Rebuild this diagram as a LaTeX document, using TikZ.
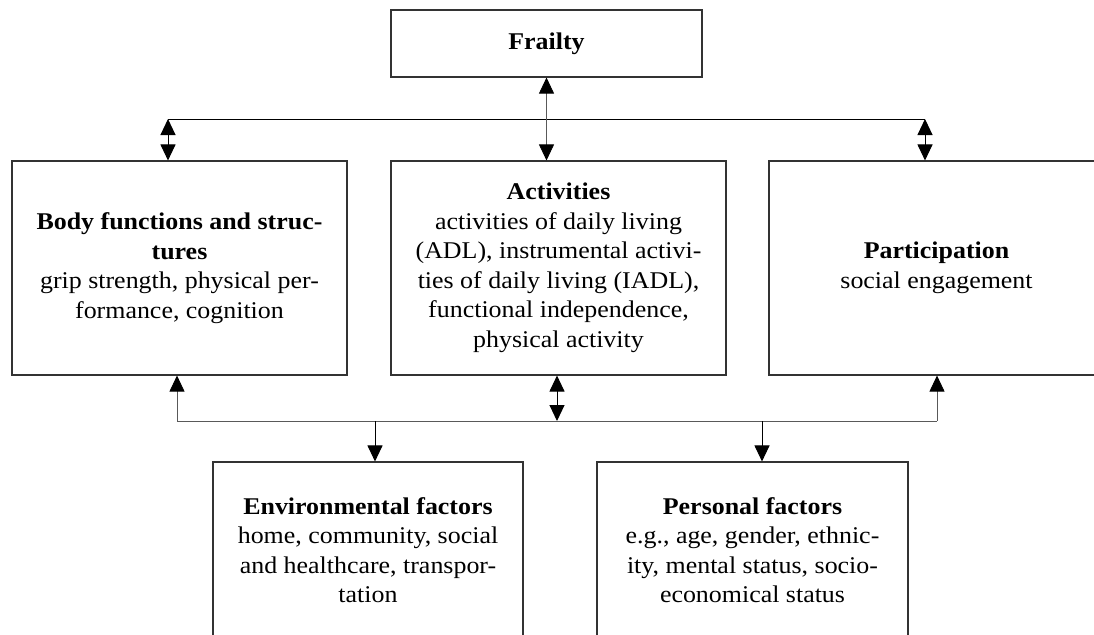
\documentclass[tikz,border=0pt]{standalone}
\usepackage{fontspec}
\setmainfont{Liberation Serif}[FakeStretch=1.08]
\usetikzlibrary{arrows.meta}
\begin{document}
\begin{tikzpicture}[x=1pt,y=-1pt,
  >={Triangle[width=15pt,length=16pt,color=black]},
  box/.style={draw=black!80, line width=1.1pt, align=center, inner sep=0pt,
    font=\fontsize{24}{29.5}\selectfont},
  link/.style={line width=1pt, black},
  thinlink/.style={line width=0.8pt, black!65}
]
\useasboundingbox (0,0) rectangle (1094,634);
\clip (0,0) rectangle (1094,634);

% central concept
\node[box, minimum width=311pt, minimum height=67pt] (frailty) at (546.5,43.5)
  {\textbf{Frailty}\vphantom{g}};

% ICF domains
\node[box, minimum width=335pt, minimum height=214pt] (body) at (179.5,268)
  {\textbf{Body functions and struc-}\\\textbf{tures}\\grip strength, physical per-\\formance, cognition};
\node[box, minimum width=335pt, minimum height=214pt] (act) at (558.5,268)
  {\textbf{Activities}\\activities of daily living\\(ADL), instrumental activi-\\ties of daily living (IADL),\\functional independence,\\physical activity};
\node[box, minimum width=335pt, minimum height=214pt] (part) at (936.5,268)
  {\textbf{Participation}\\social engagement};

% contextual factors
\node[box, minimum width=310pt, minimum height=176pt] (env) at (368,550)
  {\textbf{Environmental factors}\\home, community, social\\and healthcare, transpor-\\tation};
\node[box, minimum width=311pt, minimum height=176pt] (pers) at (752.5,550)
  {\textbf{Personal factors}\\e.g., age, gender, ethnic-\\ity, mental status, socio-\\economical status};

% upper bus
\coordinate (topL) at (168,119);
\coordinate (topR) at (925,119);
\draw[link] (topL) -- (topR);
\draw[link,<->] (topL) -- (topL |- body.north);
\draw[link,<->] (topR) -- (topR |- part.north);
\draw[thinlink,<->] (frailty.south) -- (frailty.south |- act.north);

% lower bus
\coordinate (botL) at (177,421);
\coordinate (botR) at (937,421);
\coordinate (botM) at (557,421);
\coordinate (dEnv) at (375,421);
\coordinate (dPers) at (762,421);
\draw[thinlink] (botL) -- (botR);
\draw[thinlink,->] (botL) -- (botL |- body.south);
\draw[thinlink,->] (botR) -- (botR |- part.south);
\draw[link,<->] (botM |- act.south) -- (botM);
\draw[link,->] (dEnv) -- (dEnv |- env.north);
\draw[link,->] (dPers) -- (dPers |- pers.north);
\end{tikzpicture}
\end{document}
